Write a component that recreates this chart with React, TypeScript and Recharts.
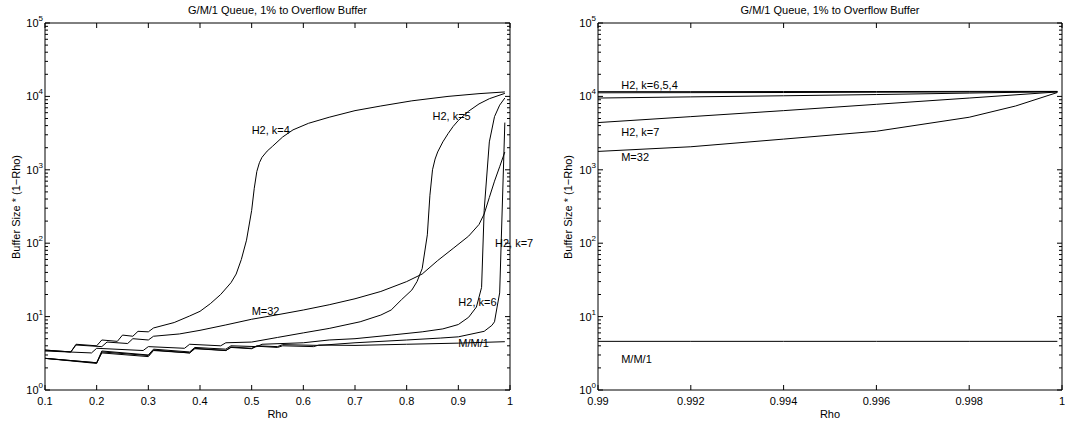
import { LineChart, Line, XAxis, YAxis, ReferenceDot, ReferenceLine } from 'recharts';

type Pt = [number, number];

// x ticks
const RHO_TICKS_LEFT = [0.1, 0.2, 0.3, 0.4, 0.5, 0.6, 0.7, 0.8, 0.9, 1];
const RHO_TICKS_RIGHT = [0.99, 0.992, 0.994, 0.996, 0.998, 1];

// log y ticks (decades get a label, the rest are minor marks)
const DECADES = [1, 10, 100, 1000, 10000, 100000];
const MINOR_TICKS = [
  2, 3, 4, 5, 6, 7, 8, 9,
  20, 30, 40, 50, 60, 70, 80, 90,
  200, 300, 400, 500, 600, 700, 800, 900,
  2000, 3000, 4000, 5000, 6000, 7000, 8000, 9000,
  20000, 30000, 40000, 50000, 60000, 70000, 80000, 90000,
];
const Y_TICKS = [...DECADES, ...MINOR_TICKS].sort((a, b) => a - b);

// ── left panel: rho 0.1 .. 1 ──
const leftH2k4: Pt[] = [
  [0.1, 3.5], [0.15, 3.3], [0.16, 4.2], [0.2, 4.0], [0.21, 4.8], [0.24, 4.6], [0.25, 5.6],
  [0.27, 5.4], [0.28, 6.3], [0.3, 6.2], [0.31, 7.0], [0.35, 8.3], [0.38, 10.2], [0.4, 11.8],
  [0.42, 15], [0.44, 20], [0.46, 29], [0.47, 38], [0.48, 60], [0.49, 110], [0.5, 280],
  [0.505, 560], [0.51, 950], [0.515, 1250], [0.52, 1480], [0.53, 1800], [0.54, 2080],
  [0.56, 2800], [0.58, 3500], [0.61, 4300], [0.65, 5200], [0.7, 6400], [0.75, 7400],
  [0.81, 8700], [0.88, 10000], [0.94, 10900], [0.99, 11500],
];
const leftH2k5: Pt[] = [
  [0.1, 3.4], [0.19, 3.2], [0.2, 3.7], [0.29, 3.45], [0.3, 3.9], [0.37, 3.7], [0.38, 4.2],
  [0.44, 4.0], [0.45, 4.4], [0.5, 4.5], [0.55, 5.2], [0.6, 6.0], [0.65, 6.9], [0.71, 8.5],
  [0.75, 10.5], [0.77, 12.3], [0.79, 17], [0.81, 23], [0.82, 30], [0.83, 45], [0.84, 130],
  [0.845, 450], [0.85, 1000], [0.855, 1400], [0.86, 1750], [0.87, 2400], [0.88, 3100],
  [0.89, 3900], [0.9, 4700], [0.92, 6300], [0.94, 7900], [0.96, 9300], [0.99, 11000],
];
const leftH2k6: Pt[] = [
  [0.1, 2.7], [0.2, 2.35], [0.21, 3.4], [0.3, 3.0], [0.31, 3.6], [0.38, 3.3], [0.39, 3.8],
  [0.45, 3.6], [0.46, 4.0], [0.51, 3.9], [0.52, 4.2], [0.6, 4.4], [0.65, 4.8], [0.7, 5.0],
  [0.77, 5.6], [0.83, 6.2], [0.87, 6.8], [0.9, 7.8], [0.92, 9.8], [0.935, 13.5], [0.945, 25],
  [0.95, 280], [0.96, 2400], [0.97, 5300], [0.98, 7600], [0.99, 9500],
];
const leftH2k7: Pt[] = [
  [0.1, 2.7], [0.2, 2.3], [0.21, 3.3], [0.3, 2.95], [0.31, 3.5], [0.38, 3.2], [0.39, 3.7],
  [0.45, 3.45], [0.46, 3.85], [0.5, 3.7], [0.51, 4.0], [0.55, 3.9], [0.56, 4.15], [0.63, 4.05],
  [0.7, 4.4], [0.8, 4.8], [0.865, 5.1], [0.9, 5.3], [0.95, 6.3], [0.965, 7.6], [0.97, 8.5],
  [0.975, 13.5], [0.98, 21], [0.99, 4400],
];
const leftM32: Pt[] = [
  [0.1, 3.5], [0.15, 3.3], [0.16, 4.1], [0.21, 3.9], [0.22, 4.5], [0.26, 4.3], [0.27, 5.0],
  [0.3, 4.8], [0.31, 5.4], [0.36, 5.8], [0.4, 6.5], [0.45, 7.7], [0.5, 9.2], [0.55, 10.6],
  [0.6, 12.3], [0.65, 14.5], [0.7, 17.5], [0.75, 22], [0.8, 30], [0.83, 38], [0.86, 58],
  [0.89, 85], [0.92, 125], [0.94, 180], [0.95, 250], [0.96, 420], [0.97, 700], [0.98, 1100],
  [0.99, 1750],
];
const leftMM1: Pt[] = [
  [0.1, 2.7], [0.2, 2.35], [0.21, 3.2], [0.3, 2.85], [0.31, 3.45], [0.38, 3.2], [0.39, 3.65],
  [0.45, 3.45], [0.46, 3.8], [0.5, 3.65], [0.51, 3.95], [0.55, 3.8], [0.56, 4.0], [0.62, 3.9],
  [0.63, 4.1], [0.7, 4.05], [0.8, 4.2], [0.9, 4.35], [0.99, 4.55],
];

// ── right panel: rho 0.99 .. 1 ──
const rightH2k4: Pt[] = [[0.99, 11600], [0.992, 11600], [0.994, 11650], [0.996, 11650], [0.998, 11700], [0.9999, 11700]];
const rightH2k5: Pt[] = [[0.99, 11200], [0.992, 11250], [0.994, 11300], [0.996, 11400], [0.998, 11500], [0.9999, 11600]];
const rightH2k6: Pt[] = [[0.99, 9500], [0.992, 9850], [0.994, 10200], [0.996, 10600], [0.998, 11100], [0.9999, 11600]];
const rightH2k7: Pt[] = [[0.99, 4400], [0.992, 5300], [0.994, 6400], [0.996, 7800], [0.998, 9500], [0.9999, 11500]];
const rightM32: Pt[] = [[0.99, 1780], [0.992, 2060], [0.994, 2620], [0.996, 3350], [0.998, 5200], [0.999, 7400], [0.9999, 11300]];
const rightMM1: Pt[] = [[0.99, 4.6], [0.992, 4.6], [0.994, 4.6], [0.996, 4.6], [0.998, 4.6], [0.9999, 4.6]];

type Note = { text: string; x: number; y: number };

const leftNotes: Note[] = [
  { text: 'H2, k=4', x: 0.5, y: 3500 },
  { text: 'H2, k=5', x: 0.85, y: 5350 },
  { text: 'M=32', x: 0.5, y: 11.8 },
  { text: 'H2, k=6', x: 0.9, y: 16 },
  { text: 'H2, k=7', x: 0.971, y: 100 },
  { text: 'M/M/1', x: 0.9, y: 4.4 },
];
const rightNotes: Note[] = [
  { text: 'H2, k=6,5,4', x: 0.9905, y: 14400 },
  { text: 'H2, k=7', x: 0.9905, y: 3300 },
  { text: 'M=32', x: 0.9905, y: 1500 },
  { text: 'M/M/1', x: 0.9905, y: 2.65 },
];

const TITLE = 'G/M/1 Queue, 1% to Overflow Buffer';
const Y_LABEL = 'Buffer Size * (1\u2212Rho)';
const X_LABEL = 'Rho';

const FONT = '"Liberation Sans", Arial, Helvetica, sans-serif';
const CHART_H = 424;
const MARGIN_TOP = 23;
const MARGIN_BOTTOM = 4;
const X_AXIS_H = 30;
const PLOT_H = CHART_H - MARGIN_TOP - MARGIN_BOTTOM - X_AXIS_H;

interface PanelProps {
  width: number;
  marginLeft: number;
  marginRight: number;
  yAxisWidth: number;
  domainX: [number, number];
  ticksX: number[];
  series: Pt[][];
  notes: Note[];
}

function Panel({ width, marginLeft, marginRight, yAxisWidth, domainX, ticksX, series, notes }: PanelProps) {
  const plotW = width - marginLeft - marginRight - yAxisWidth;
  const frame = { stroke: '#000', strokeWidth: 1 };

  // x tick: label below, inward marks at bottom and top of the box
  const xTick = (props: any) => {
    const { x, y, payload } = props;
    const base = y - 7;
    return (
      <g>
        <line x1={x} y1={base} x2={x} y2={base - 5} stroke='#000' />
        <line x1={x} y1={base - PLOT_H} x2={x} y2={base - PLOT_H + 5} stroke='#000' />
        <text x={x} y={y + 8} textAnchor='middle' fontSize={11} fill='#000' fontFamily={FONT}>
          {String(payload.value)}
        </text>
      </g>
    );
  };

  // y tick: 10^n label on decades, inward marks on both sides
  const yTick = (props: any) => {
    const { x, y, payload } = props;
    const edge = x + 2;
    const major = DECADES.includes(payload.value);
    const len = major ? 5 : 3;
    return (
      <g>
        <line x1={edge} y1={y} x2={edge + len} y2={y} stroke='#000' />
        <line x1={edge + plotW} y1={y} x2={edge + plotW - len} y2={y} stroke='#000' />
        {major && (
          <text x={x} y={y + 4} textAnchor='end' fontSize={11} fill='#000' fontFamily={FONT}>
            <tspan>10</tspan>
            <tspan dy={-6} fontSize={8}>{Math.round(Math.log10(payload.value))}</tspan>
          </text>
        )}
      </g>
    );
  };

  return (
    <LineChart width={width} height={CHART_H} margin={{ top: MARGIN_TOP, right: marginRight, bottom: MARGIN_BOTTOM, left: marginLeft }}>
      <XAxis
        xAxisId='b'
        dataKey='x'
        type='number'
        domain={domainX}
        ticks={ticksX}
        interval={0}
        allowDataOverflow
        height={X_AXIS_H}
        axisLine={frame}
        tickLine={false}
        tickSize={0}
        tickMargin={7}
        tick={xTick}
      />
      <YAxis
        yAxisId='l'
        type='number'
        scale='log'
        domain={[1, 100000]}
        ticks={Y_TICKS}
        interval={0}
        allowDataOverflow
        width={yAxisWidth}
        axisLine={frame}
        tickLine={false}
        tickSize={0}
        tickMargin={2}
        tick={yTick}
      />
      <ReferenceLine xAxisId='b' yAxisId='l' y={100000} stroke='#000' strokeWidth={1} />
      <ReferenceLine xAxisId='b' yAxisId='l' x={domainX[1]} stroke='#000' strokeWidth={1} />
      {series.map((pts, i) => (
        <Line
          key={i}
          xAxisId='b'
          yAxisId='l'
          data={pts.map(([x, y]) => ({ x, y }))}
          dataKey='y'
          type='linear'
          stroke='#000'
          strokeWidth={1}
          dot={false}
          activeDot={false}
          isAnimationActive={false}
        />
      ))}
      {notes.map((n) => (
        <ReferenceDot
          key={n.text + n.x}
          xAxisId='b'
          yAxisId='l'
          x={n.x}
          y={n.y}
          r={0}
          ifOverflow='visible'
          shape={(p: any) => (
            <text x={p.cx} y={p.cy} dominantBaseline='central' fontSize={11} fill='#000' fontFamily={FONT}>
              {n.text}
            </text>
          )}
        />
      ))}
    </LineChart>
  );
}

export default function App() {
  return (
    <div style={{ position: 'relative', width: 1065, height: 424, background: '#fff', fontFamily: FONT, overflow: 'hidden' }}>
      <style>{'body{margin:0}'}</style>
      <div style={{ position: 'absolute', left: 0, top: 0 }}>
        <Panel
          width={535}
          marginLeft={5}
          marginRight={25}
          yAxisWidth={40}
          domainX={[0.1, 1]}
          ticksX={RHO_TICKS_LEFT}
          series={[leftH2k4, leftH2k5, leftH2k6, leftH2k7, leftM32, leftMM1]}
          notes={leftNotes}
        />
      </div>
      <div style={{ position: 'absolute', left: 535, top: 0 }}>
        <Panel
          width={530}
          marginLeft={13}
          marginRight={3}
          yAxisWidth={50}
          domainX={[0.99, 1]}
          ticksX={RHO_TICKS_RIGHT}
          series={[rightH2k4, rightH2k5, rightH2k6, rightH2k7, rightM32, rightMM1]}
          notes={rightNotes}
        />
      </div>
      <svg width={1065} height={424} style={{ position: 'absolute', left: 0, top: 0, pointerEvents: 'none' }}>
        <g fontSize={11} fill='#000' fontFamily={FONT} textAnchor='middle' dominantBaseline='central'>
          <text x={277.5} y={10}>{TITLE}</text>
          <text x={830} y={10}>{TITLE}</text>
          <text x={277.5} y={414}>{X_LABEL}</text>
          <text x={830} y={414}>{X_LABEL}</text>
          <text transform='translate(16,207) rotate(-90)'>{Y_LABEL}</text>
          <text transform='translate(568,207) rotate(-90)'>{Y_LABEL}</text>
        </g>
      </svg>
    </div>
  );
}
